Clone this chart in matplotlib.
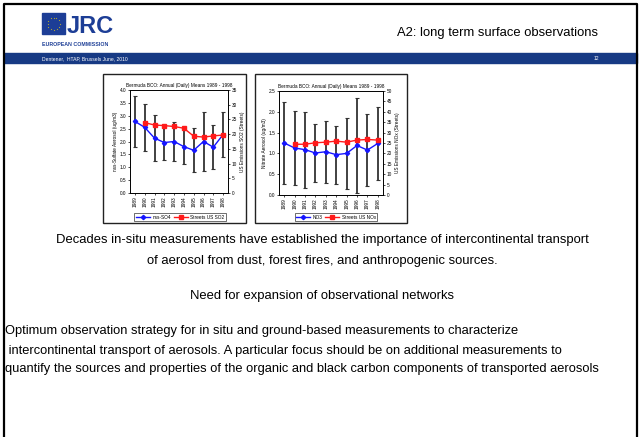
import matplotlib
matplotlib.use('Agg')
import matplotlib.pyplot as plt
from matplotlib.patches import Rectangle
import numpy as np

plt.rcParams['font.family'] = ['Liberation Sans', 'DejaVu Sans']

# data
years = [1989, 1990, 1991, 1992, 1993, 1994, 1995, 1996, 1997, 1998]
so4 = [2.78, 2.55, 2.13, 1.96, 2.00, 1.80, 1.66, 2.00, 1.78, 2.27]
so4_err = [1.00, 0.90, 0.89, 0.68, 0.74, 0.68, 0.86, 1.14, 0.85, 0.87]
so2_years = [1990, 1991, 1992, 1993, 1994, 1995, 1996, 1997, 1998]
so2 = [23.9, 23.1, 22.9, 22.6, 22.0, 19.3, 19.0, 19.4, 19.7]

no3 = [1.25, 1.13, 1.09, 1.01, 1.04, 0.97, 1.00, 1.19, 1.08, 1.24]
no3_err = [0.98, 0.90, 0.91, 0.69, 0.74, 0.70, 0.86, 1.14, 0.86, 0.87]
nox_years = [1990, 1991, 1992, 1993, 1994, 1995, 1996, 1997, 1998]
nox = [24.4, 24.4, 25.1, 25.4, 25.9, 25.4, 26.4, 26.7, 26.4]

W, H = 640, 437
fig = plt.figure(figsize=(6.4, 4.37), dpi=100)

def box(l, t, r, b):
    return [l / W, 1 - b / H, (r - l) / W, (b - t) / H]

# slide background drawn in pixel coords
bg = fig.add_axes([0, 0, 1, 1])
bg.set_xlim(0, W)
bg.set_ylim(H, 0)
bg.axis('off')

navy = '#173a84'
bg.plot([4, 4, 637, 637], [437, 4, 4, 437], color='black', lw=1.6)
bg.add_patch(Rectangle((4, 53), 633, 10, color=navy))
bg.text(42, 58.5, 'Dentener,  HTAP, Brussels June, 2010', color='white',
        fontsize=3.6, va='center', ha='left')
bg.text(596, 58.5, '12', color='white', fontsize=3.6, va='center', ha='center')

# JRC logo
bg.add_patch(Rectangle((42, 13), 23, 21, color='#1d3e96'))
ang = np.linspace(0, 2 * np.pi, 13)[:-1]
bg.scatter(53.5 + 6 * np.cos(ang), 23.5 + 6 * np.sin(ang), marker='*', s=1.4,
           color='#ffdd00', lw=0)
bg.text(67, 33, 'JRC', fontsize=17, fontweight='bold', color='#1d3e96',
        ha='left', va='baseline')
bg.text(42, 45, 'EUROPEAN COMMISSION', fontsize=3.8, fontweight='bold',
        color='#1d3e96', ha='left', va='center')

bg.text(598, 33, 'A2: long term surface observations', fontsize=9.4,
        ha='right', va='center')

# body text
bg.text(322, 240, 'Decades in-situ measurements have established the importance of intercontinental transport',
        fontsize=9.4, ha='center', va='center')
bg.text(322, 261, 'of aerosol from dust, forest fires, and anthropogenic sources.',
        fontsize=9.4, ha='center', va='center')
bg.text(322, 296, 'Need for expansion of observational networks',
        fontsize=9.4, ha='center', va='center')
bg.text(5, 331, 'Optimum observation strategy for in situ and ground-based measurements to characterize',
        fontsize=9.3, ha='left', va='center')
bg.text(5, 351, ' intercontinental transport of aerosols. A particular focus should be on additional measurements to',
        fontsize=9.3, ha='left', va='center')
bg.text(5, 369, 'quantify the sources and properties of the organic and black carbon components of transported aerosols',
        fontsize=9.3, ha='left', va='center')

# chart frames
for l, r in [(103, 246), (255, 407)]:
    bg.add_patch(Rectangle((l, 74), r - l, 149, facecolor='white',
                           edgecolor='#222222', lw=1.0))

tick_fs = 3.4


def panel(rect, y, err, y2_years, y2, ylim, ystep, y2lim, y2step, lab, lab2,
          name, name2, leg_x):
    ax = fig.add_axes(box(*rect))
    ax.errorbar(years, y, yerr=err, fmt='none', ecolor='#333333', elinewidth=1.3,
                capsize=1.5, capthick=0.8, zorder=1)
    l1, = ax.plot(years, y, color='#1515ff', lw=1.0, marker='D', ms=2.2,
                  zorder=3)
    ax.set_ylim(*ylim)
    ticks = np.arange(ylim[0], ylim[1] + 1e-9, ystep)
    ax.set_yticks(ticks)
    ax.set_yticklabels(['%.1f' % v for v in ticks])
    ax.set_xlim(1988.5, 1998.5)
    ax.set_xticks(years)
    ax.set_xticklabels([str(v) for v in years], rotation=90)
    ax.tick_params(labelsize=tick_fs, length=1.5, width=0.5, pad=1)
    ax.set_ylabel(lab, fontsize=tick_fs, labelpad=1.5)
    ax.set_title('Bermuda BCO: Annual (Daily) Means 1989 - 1998', fontsize=tick_fs,
                 pad=2.5)
    for s in ax.spines.values():
        s.set_linewidth(0.6)
    ax2 = ax.twinx()
    l2, = ax2.plot(y2_years, y2, color='#ff1a1a', lw=1.0, marker='s', ms=2.4,
                   zorder=4)
    ax2.set_ylim(*y2lim)
    ax2.set_yticks(np.arange(y2lim[0], y2lim[1] + 1, y2step))
    ax2.tick_params(labelsize=tick_fs, length=1.5, width=0.5, pad=1)
    ax2.set_ylabel(lab2, fontsize=tick_fs, labelpad=2)
    for s in ax2.spines.values():
        s.set_linewidth(0.6)
    leg = fig.legend([l1, l2], [name, name2], loc='center',
                     bbox_to_anchor=(leg_x / W, 1 - 217 / H), ncol=2,
                     frameon=True, fancybox=False,
                     handlelength=3, handletextpad=0.5, columnspacing=0.6,
                     borderpad=0.3, prop={'size': tick_fs})
    leg.get_frame().set_edgecolor('black')
    leg.get_frame().set_linewidth(0.5)
    return ax


panel((130, 90, 228, 193), so4, so4_err, so2_years, so2, (0, 4.0), 0.5, (0, 35), 5,
      'nss-Sulfate Aerosol (ug/m3)', 'US Emissions SO2 (Streets)',
      'nss-SO4', 'Streets US SO2', 180)
panel((279, 91, 383, 195), no3, no3_err, nox_years, nox, (0, 2.5), 0.5, (0, 50), 5,
      'Nitrate Aerosol (ug/m3)', 'US Emissions NOx (Streets)',
      'NO3', 'Streets US NOx', 336)

fig.savefig('out.png', dpi=100)
